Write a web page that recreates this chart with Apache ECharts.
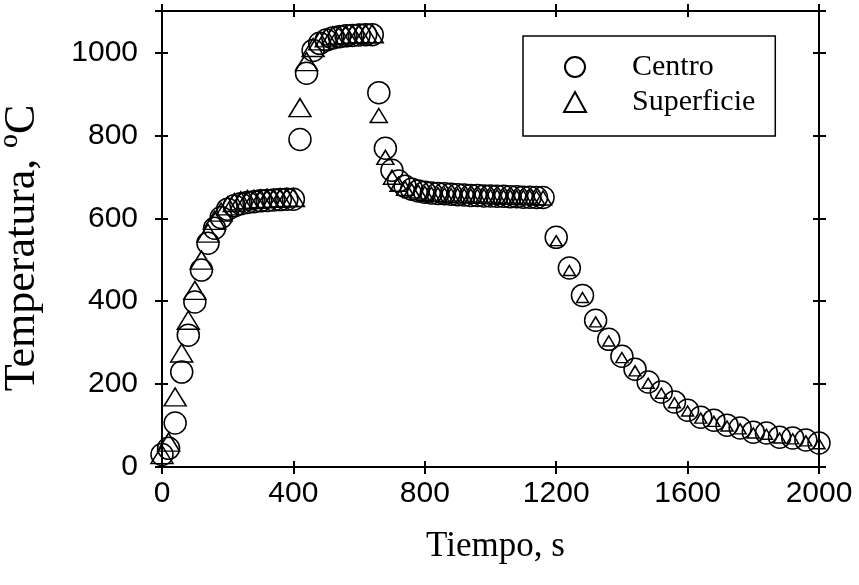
<!DOCTYPE html>
<html>
<head>
<meta charset="utf-8">
<script src="https://cdn.jsdelivr.net/npm/echarts@6/dist/echarts.min.js"></script>
<style>
  html, body { margin: 0; padding: 0; background: #fff; }
  #main { width: 859px; height: 585px; }
</style>
</head>
<body>
<div id="main"></div>
<script>
var chart = echarts.init(document.getElementById('main'));

// tiempo (s)
var tiempo = [
  0, 20, 40, 60, 80, 100, 120, 140, 160, 180, 200, 220, 240, 260, 280, 300, 320, 340, 360, 380, 400,
  420, 440, 460, 480, 500, 520, 540, 560, 580, 600, 620, 640,
  660, 680, 700, 720, 740, 760, 780, 800, 820, 840, 860, 880, 900, 920, 940, 960, 980, 1000,
  1020, 1040, 1060, 1080, 1100, 1120, 1140, 1160,
  1200, 1240, 1280, 1320, 1360, 1400, 1440, 1480, 1520, 1560, 1600, 1640, 1680, 1720, 1760,
  1800, 1840, 1880, 1920, 1960, 2000
];

var centro = [
  30, 45, 106, 229, 318, 398, 475, 540, 576, 602, 622, 630, 635, 638, 640, 642, 643, 644, 645, 646, 646,
  790, 950, 1005, 1022, 1030, 1035, 1038, 1040, 1041, 1042, 1043, 1043,
  903, 769, 716, 690, 677, 670, 666, 663, 661, 660, 659, 658, 657, 656, 655, 655,
  654, 654, 653, 653, 652, 652, 651, 651, 650, 650,
  554, 480, 414, 354, 308, 267, 236, 205, 181, 157, 137, 120, 113, 101, 94, 84, 82, 72, 70, 65, 58
];

var superficie = [
  30, 60, 169, 275, 354, 426, 499, 564, 595, 615, 630, 638, 642, 645, 646, 647, 648, 648, 649, 650, 650,
  867, 978, 1012, 1028, 1035, 1040, 1042, 1043, 1044, 1045, 1045, 1045,
  848, 747, 699, 682, 672, 666, 663, 660, 658, 657, 656, 655, 655, 654, 654, 653,
  653, 652, 652, 651, 651, 650, 650, 650, 649, 649,
  546, 474, 409, 350, 304, 264, 232, 202, 178, 155, 135, 118, 110, 99, 92, 82, 79, 70, 68, 63, 56
];

var xMin = 0, xMax = 2000, xStep = 400;
var yMin = 0, yMax = 1100, yStep = 200;

function pairs(ys) {
  return tiempo.map(function (t, i) { return [t, ys[i]]; });
}

var black = '#000';
var sansFont = '"Liberation Sans", Arial, sans-serif';
var serifFont = '"Liberation Serif", "Times New Roman", serif';

function makeAxis(kind, pos, grid, inside, labels) {
  var ax = {
    type: 'value',
    gridIndex: grid,
    position: pos,
    min: kind === 'x' ? xMin : yMin,
    max: kind === 'x' ? xMax : yMax,
    interval: kind === 'x' ? xStep : yStep,
    axisLine: { show: true, onZero: false, lineStyle: { color: black, width: 2 } },
    axisTick: { show: true, inside: inside, length: inside ? 6 : 7, lineStyle: { color: black, width: 2 } },
    axisLabel: { show: false },
    splitLine: { show: false }
  };
  if (labels) {
    ax.axisLabel = {
      show: true,
      color: black,
      fontFamily: sansFont,
      fontSize: 30,
      margin: kind === 'x' ? 12 : 24,
      formatter: function (v) { return (kind === 'y' && v > 1000) ? '' : String(v); }
    };
    ax.name = kind === 'x' ? 'Tiempo, s' : 'Temperatura, ºC';
    ax.nameLocation = 'middle';
    ax.nameGap = kind === 'x' ? 62 : 118;
    ax.nameTextStyle = {
      color: black,
      fontFamily: serifFont,
      fontSize: kind === 'x' ? 35 : 44,
      padding: kind === 'x' ? [0, 0, 0, 10] : [0, 18, 0, 0]
    };
  }
  return ax;
}

option = {
  backgroundColor: '#fff',
  animation: false,
  grid: [
    { left: 162, right: 40, top: 11, bottom: 118, outerBoundsMode: 'none' },
    { left: 162, right: 40, top: 11, bottom: 118, outerBoundsMode: 'none' }
  ],
  xAxis: [
    makeAxis('x', 'bottom', 0, false, true),
    makeAxis('x', 'top', 0, false, false),
    makeAxis('x', 'bottom', 1, true, false),
    makeAxis('x', 'top', 1, true, false)
  ],
  yAxis: [
    makeAxis('y', 'left', 0, false, true),
    makeAxis('y', 'right', 0, false, false),
    makeAxis('y', 'left', 1, true, false),
    makeAxis('y', 'right', 1, true, false)
  ],
  legend: {
    orient: 'vertical',
    left: 523,
    top: 36,
    padding: [16, 20, 19, 40],
    itemWidth: 22,
    itemHeight: 20,
    itemGap: 5,
    borderColor: black,
    borderWidth: 1.5,
    borderRadius: 0,
    backgroundColor: '#fff',
    textStyle: { color: black, fontFamily: serifFont, fontSize: 30, lineHeight: 30, padding: [0, 0, 0, 41] },
    data: ['Centro', 'Superficie']
  },
  series: [
    {
      name: 'Centro',
      type: 'scatter',
      xAxisIndex: 0,
      yAxisIndex: 0,
      symbol: 'circle',
      symbolSize: 22,
      itemStyle: { color: 'rgba(0,0,0,0)', borderColor: black, borderWidth: 1.5, opacity: 1 },
      data: pairs(centro)
    },
    {
      name: 'Superficie',
      type: 'scatter',
      xAxisIndex: 0,
      yAxisIndex: 0,
      symbol: 'triangle',
      symbolSize: function (v) {
        if (v[0] < 650) return [22, 18];
        if (v[0] < 1180) return [17, 14];
        return [12, 10];
      },
      itemStyle: { color: 'rgba(0,0,0,0)', borderColor: black, borderWidth: 1.5, opacity: 1 },
      data: pairs(superficie)
    }
  ]
};

chart.setOption(option);
</script>
</body>
</html>
